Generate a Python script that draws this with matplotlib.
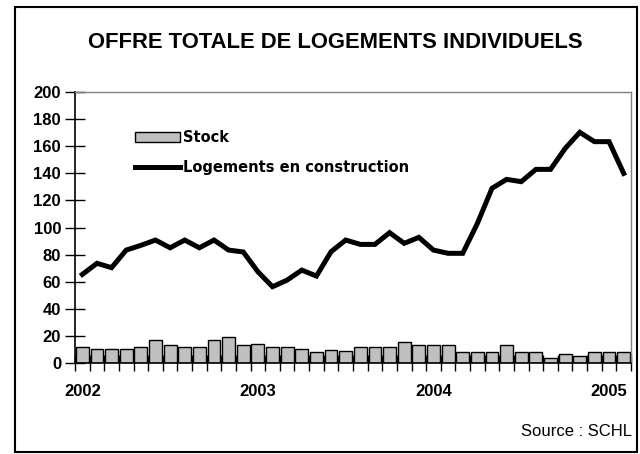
import matplotlib
matplotlib.use("Agg")
import matplotlib.pyplot as plt
from matplotlib.patches import Rectangle
import numpy as np

plt.rcParams['font.family'] = ['Liberation Sans', 'DejaVu Sans']

# monthly data, Jan 2002 -> Feb 2005
stock = [11.8, 10.1, 10.1, 10.1, 11.6, 16.5, 12.8, 11.6, 11.6, 16.5,
         19.2, 12.8, 14.0, 11.6, 11.6, 10.1, 7.9, 9.1, 9.0, 11.6,
         11.6, 11.6, 15.3, 12.8, 12.8, 12.8, 7.9, 7.9, 7.9, 12.8,
         7.9, 7.9, 3.7, 6.4, 5.2, 7.9, 7.9, 7.9]
construction = [65.3, 73.5, 70.3, 83.3, 86.8, 90.7, 85.0, 90.7, 85.0, 90.7,
                83.3, 81.9, 67.3, 56.2, 61.1, 68.5, 64.1, 82.1, 90.7, 87.5,
                87.5, 96.2, 88.3, 92.7, 83.3, 80.9, 80.9, 103.0, 129.0, 135.6,
                133.9, 143.0, 143.0, 158.5, 170.4, 163.5, 163.5, 140.0]
year_labels = ['2002', '2003', '2004', '2005']

x = np.arange(len(stock))

fig = plt.figure(figsize=(6.4, 4.54), dpi=100)
ax = fig.add_axes([75/640, 1-362.7/454, 556/640, 270.4/454])

bars = ax.bar(x, stock, width=0.88, color='#c0c0c0', edgecolor='black',
              linewidth=1.0, label='Stock', zorder=2)
line, = ax.plot(x, construction, color='black', linewidth=3.6,
                solid_joinstyle='miter', label='Logements en construction',
                zorder=3)

ax.set_xlim(-0.5, len(stock) - 0.5)
ax.set_ylim(0, 200)
ax.set_yticks(np.arange(0, 201, 20))
ax.tick_params(axis='y', direction='inout', length=14, width=1, labelsize=12, pad=3)
for lab in ax.get_yticklabels():
    lab.set_fontweight('bold')

ax.set_xticks(np.arange(0, len(stock), 12))
ax.set_xticklabels(year_labels, fontsize=12, fontweight='bold')
ax.set_xticks(np.arange(-0.5, len(stock), 1), minor=True)
ax.tick_params(axis='x', which='major', length=0, pad=15)
ax.tick_params(axis='x', which='minor', direction='inout', length=12, width=1)

for s in ['top', 'right']:
    ax.spines[s].set_color('#808080')
    ax.spines[s].set_linewidth(1.0)
for s in ['left', 'bottom']:
    ax.spines[s].set_color('black')
    ax.spines[s].set_linewidth(1.2)

leg = ax.legend([bars, line], ['Stock', 'Logements en construction'],
                loc='upper left', bbox_to_anchor=(135/640, 1-130/454),
                bbox_transform=fig.transFigure, frameon=False,
                prop={'family': 'DejaVu Sans', 'weight': 'bold', 'size': 10.5},
                handlelength=3.1, handleheight=0.75, handletextpad=0.2,
                labelspacing=1.05, borderpad=0, borderaxespad=0)

fig.text(335/640, 1-43/454, 'OFFRE TOTALE DE LOGEMENTS INDIVIDUELS',
         ha='center', va='center', fontsize=15.8, fontweight='bold')
fig.text(632/640, 1-432/454, 'Source : SCHL', ha='right', va='center', fontsize=12)

fig.patches.append(Rectangle((15/640, 1-452/454), 622/640, 445/454,
                             transform=fig.transFigure, fill=False,
                             edgecolor='black', linewidth=1.5))

fig.savefig('out.png', dpi=100)
